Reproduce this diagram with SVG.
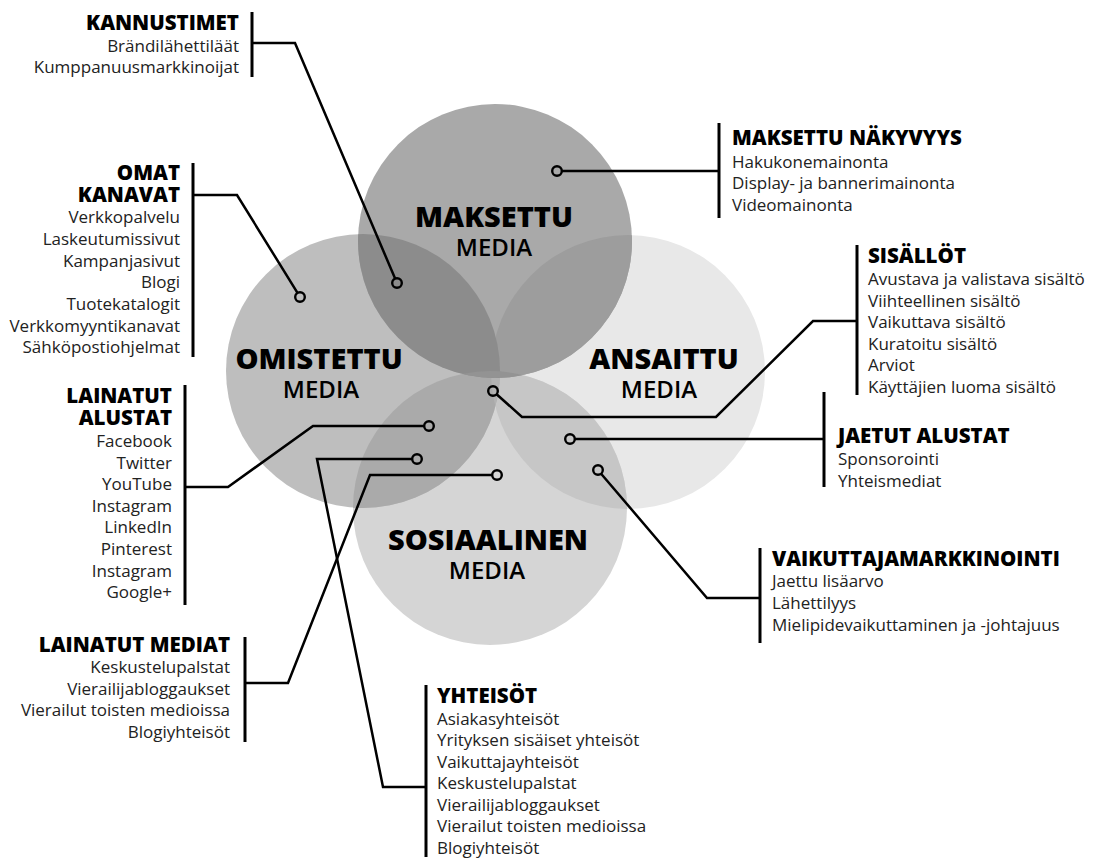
<svg xmlns="http://www.w3.org/2000/svg" width="1098" height="861" viewBox="0 0 1098 861">
<style>
.bg{fill:#ffffff}
.t{font-family:"Open Sans","Liberation Sans",sans-serif}
.h{font-weight:800;font-size:20.5px;fill:#000}
.b{font-weight:400;font-size:17px;fill:#222}
.cl{font-family:"Open Sans","Liberation Sans",sans-serif;text-anchor:middle;fill:#000}
.cb{font-weight:800;font-size:29px}
.cm{font-weight:600;font-size:24px}
.r{text-anchor:end}
.bar{stroke:#000;stroke-width:3;fill:none}
.ln{stroke:#000;stroke-width:2.5;fill:none;stroke-linejoin:miter}
.dot{stroke:#000;stroke-width:2.4;fill:none}
</style>
<defs>
<clipPath id="cLeft"><circle cx="363" cy="371" r="137"/></clipPath>
<clipPath id="cRight"><circle cx="628" cy="372" r="137"/></clipPath>
<clipPath id="cBot"><circle cx="490" cy="508" r="137"/></clipPath>
</defs>
<rect class="bg" x="0" y="0" width="1098" height="861"/>

<g id="circles">
<circle cx="628" cy="372" r="137" fill="#e8e8e8"/>
<circle cx="490" cy="508" r="137" fill="#d5d5d5"/>
<circle cx="363" cy="371" r="137" fill="#bebebe"/>
<circle cx="495" cy="241" r="137" fill="#a9a9a9"/>
<circle cx="628" cy="372" r="137" fill="#c6c6c6" clip-path="url(#cBot)"/>
<circle cx="363" cy="371" r="137" fill="#aaaaaa" clip-path="url(#cBot)"/>
<circle cx="363" cy="371" r="137" fill="#b3b3b3" clip-path="url(#cRight)"/>
<circle cx="495" cy="241" r="137" fill="#9d9d9d" clip-path="url(#cRight)"/>
<circle cx="495" cy="241" r="137" fill="#8c8c8c" clip-path="url(#cLeft)"/>
<circle cx="495" cy="241" r="137" fill="#939393" clip-path="url(#cBot)"/>
</g>

<g id="maksettu-media">
<text class="cl"><tspan class="cb" x="494" y="227">MAKSETTU</tspan><tspan class="cm" x="494" y="256">MEDIA</tspan></text>
</g>
<g id="omistettu-media">
<text class="cl"><tspan class="cb" x="319" y="369">OMISTETTU</tspan><tspan class="cm" x="321" y="398">MEDIA</tspan></text>
</g>
<g id="ansaittu-media">
<text class="cl"><tspan class="cb" x="664" y="369">ANSAITTU</tspan><tspan class="cm" x="659" y="398">MEDIA</tspan></text>
</g>
<g id="sosiaalinen-media">
<text class="cl"><tspan class="cb" x="488" y="550">SOSIAALINEN</tspan><tspan class="cm" x="487" y="579">MEDIA</tspan></text>
</g>

<g id="connectors">
<polyline class="ln" points="252,43 295,43 395.1,278.6"/>
<polyline class="ln" points="193,195 237,195 297.5,292.9"/>
<polyline class="ln" points="719,171 561.8,171"/>
<polyline class="ln" points="857,321 813,321 716,417 522,417 496.6,394.2"/>
<polyline class="ln" points="185,487 228,487 313,426 424.2,426"/>
<polyline class="ln" points="426,787 383,787 317,459 412.2,459"/>
<polyline class="ln" points="245,683 288,683 370,475 492.2,475"/>
<polyline class="ln" points="574.8,439 824,439"/>
<polyline class="ln" points="601.1,473.7 707,598 760,598"/>
<circle class="dot" cx="397" cy="283" r="4.8"/>
<circle class="dot" cx="300" cy="297" r="4.8"/>
<circle class="dot" cx="557" cy="171" r="4.8"/>
<circle class="dot" cx="493" cy="391" r="4.8"/>
<circle class="dot" cx="429" cy="426" r="4.8"/>
<circle class="dot" cx="417" cy="459" r="4.8"/>
<circle class="dot" cx="497" cy="475" r="4.8"/>
<circle class="dot" cx="570" cy="439" r="4.8"/>
<circle class="dot" cx="598" cy="470" r="4.8"/>
</g>

<g id="kannustimet">
<line class="bar" x1="252" y1="12" x2="252" y2="77"/>
<text class="t r"><tspan class="h" x="239" y="30">KANNUSTIMET</tspan><tspan class="b" x="239" y="52">Brändilähettiläät</tspan><tspan class="b" x="239" y="73">Kumppanuusmarkkinoijat</tspan></text>
</g>

<g id="omat-kanavat">
<line class="bar" x1="193" y1="163" x2="193" y2="357"/>
<text class="t r"><tspan class="h" x="180" y="180">OMAT</tspan><tspan class="h" x="180" y="202">KANAVAT</tspan><tspan class="b" x="180" y="223">Verkkopalvelu</tspan><tspan class="b" x="180" y="245">Laskeutumissivut</tspan><tspan class="b" x="180" y="267">Kampanjasivut</tspan><tspan class="b" x="180" y="288">Blogi</tspan><tspan class="b" x="180" y="310">Tuotekatalogit</tspan><tspan class="b" x="180" y="332">Verkkomyyntikanavat</tspan><tspan class="b" x="180" y="353">Sähköpostiohjelmat</tspan></text>
</g>

<g id="maksettu-nakyvyys">
<line class="bar" x1="719" y1="123" x2="719" y2="218"/>
<text class="t"><tspan class="h" x="732" y="145">MAKSETTU NÄKYVYYS</tspan><tspan class="b" x="732" y="168">Hakukonemainonta</tspan><tspan class="b" x="732" y="189">Display- ja bannerimainonta</tspan><tspan class="b" x="732" y="211">Videomainonta</tspan></text>
</g>

<g id="sisallot">
<line class="bar" x1="857" y1="245" x2="857" y2="395"/>
<text class="t"><tspan class="h" x="868" y="263">SISÄLLÖT</tspan><tspan class="b" x="868" y="285">Avustava ja valistava sisältö</tspan><tspan class="b" x="868" y="307">Viihteellinen sisältö</tspan><tspan class="b" x="868" y="328">Vaikuttava sisältö</tspan><tspan class="b" x="868" y="350">Kuratoitu sisältö</tspan><tspan class="b" x="868" y="371">Arviot</tspan><tspan class="b" x="868" y="393">Käyttäjien luoma sisältö</tspan></text>
</g>

<g id="jaetut-alustat">
<line class="bar" x1="824" y1="392" x2="824" y2="487"/>
<text class="t"><tspan class="h" x="838" y="443">JAETUT ALUSTAT</tspan><tspan class="b" x="838" y="465">Sponsorointi</tspan><tspan class="b" x="838" y="487">Yhteismediat</tspan></text>
</g>

<g id="vaikuttajamarkkinointi">
<line class="bar" x1="760" y1="548" x2="760" y2="643"/>
<text class="t"><tspan class="h" x="772" y="566">VAIKUTTAJAMARKKINOINTI</tspan><tspan class="b" x="772" y="587">Jaettu lisäarvo</tspan><tspan class="b" x="772" y="609">Lähettilyys</tspan><tspan class="b" x="772" y="631">Mielipidevaikuttaminen ja -johtajuus</tspan></text>
</g>

<g id="lainatut-alustat">
<line class="bar" x1="185" y1="385" x2="185" y2="605"/>
<text class="t r"><tspan class="h" x="172" y="403">LAINATUT</tspan><tspan class="h" x="172" y="425">ALUSTAT</tspan><tspan class="b" x="172" y="447">Facebook</tspan><tspan class="b" x="172" y="469">Twitter</tspan><tspan class="b" x="172" y="490">YouTube</tspan><tspan class="b" x="172" y="512">Instagram</tspan><tspan class="b" x="172" y="533">LinkedIn</tspan><tspan class="b" x="172" y="555">Pinterest</tspan><tspan class="b" x="172" y="577">Instagram</tspan><tspan class="b" x="172" y="598">Google+</tspan></text>
</g>

<g id="lainatut-mediat">
<line class="bar" x1="245" y1="637" x2="245" y2="742"/>
<text class="t r"><tspan class="h" x="230" y="652">LAINATUT MEDIAT</tspan><tspan class="b" x="230" y="673">Keskustelupalstat</tspan><tspan class="b" x="230" y="695">Vierailijabloggaukset</tspan><tspan class="b" x="230" y="716">Vierailut toisten medioissa</tspan><tspan class="b" x="230" y="738">Blogiyhteisöt</tspan></text>
</g>

<g id="yhteisot">
<line class="bar" x1="426" y1="685" x2="426" y2="857"/>
<text class="t"><tspan class="h" x="437" y="703">YHTEISÖT</tspan><tspan class="b" x="437" y="725">Asiakasyhteisöt</tspan><tspan class="b" x="437" y="746">Yrityksen sisäiset yhteisöt</tspan><tspan class="b" x="437" y="768">Vaikuttajayhteisöt</tspan><tspan class="b" x="437" y="789">Keskustelupalstat</tspan><tspan class="b" x="437" y="811">Vierailijabloggaukset</tspan><tspan class="b" x="437" y="832">Vierailut toisten medioissa</tspan><tspan class="b" x="437" y="854">Blogiyhteisöt</tspan></text>
</g>
</svg>
